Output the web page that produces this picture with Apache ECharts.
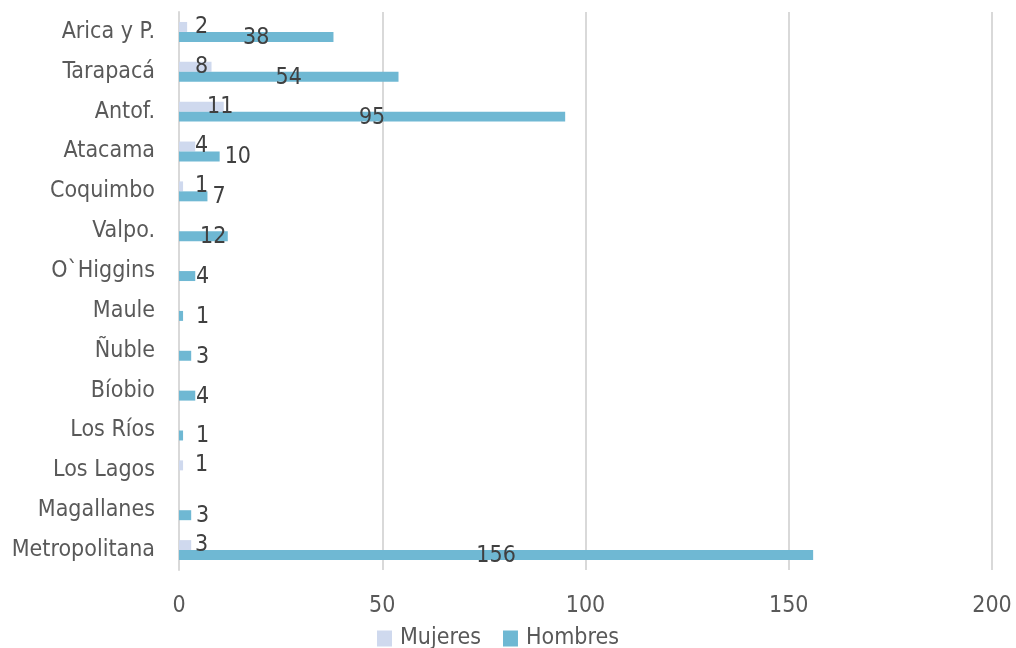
<!DOCTYPE html>
<html><head><meta charset="utf-8">
<script src="https://cdn.jsdelivr.net/npm/echarts@6/dist/echarts.min.js"></script>
<style>html,body{margin:0;padding:0;background:#fff}#c{width:1016px;height:648px}</style>
</head><body><div id="c"></div>
<script>
const categories = ['Arica y P.','Tarapacá','Antof.','Atacama','Coquimbo','Valpo.','O`Higgins','Maule','Ñuble','Bíobio','Los Ríos','Los Lagos','Magallanes','Metropolitana'];
const mujeres = [2, 8, 11, 4, 1, null, null, null, null, null, null, 1, null, 3];
const hombres = [38, 54, 95, 10, 7, 12, 4, 1, 3, 4, 1, null, 3, 156];
const xTicks = [0, 50, 100, 150, 200];

const FONT = "'Liberation Sans Narrow','DejaVu Sans Condensed',sans-serif";
const lab = {fontFamily: FONT, fontSize: 23, color: '#404040'};

function mujItems(arr){
  return arr.map(v => {
    if (v == null) return null;
    const dist = v >= 10 ? 28 : 16;
    return {value: v, label: Object.assign({show: true, position: 'insideLeft', distance: dist}, lab)};
  });
}
function homItems(arr){
  return arr.map(v => {
    if (v == null) return null;
    let pos = 'insideLeft', dist = 17;
    if (v >= 30) { pos = 'inside'; dist = 5; }
    else if (v >= 12) { pos = 'insideLeft'; dist = 21; }
    else if (v >= 6) { pos = 'right'; dist = 5; }
    return {value: v, label: Object.assign({show: true, position: pos, distance: dist, offset: [0, 1]}, lab)};
  });
}

const chart = echarts.init(document.getElementById('c'), null, {renderer: 'canvas'});
chart.setOption({
  animation: false,
  grid: {left: 179, right: 24, top: 12, bottom: 78, containLabel: false},
  legend: {
    top: 622, left: 372, itemWidth: 15, itemHeight: 16, itemGap: 22,
    icon: 'rect',
    textStyle: {fontFamily: FONT, fontSize: 23, color: '#595959', padding: [0, 0, 0, 3]},
    data: ['Mujeres', 'Hombres']
  },
  xAxis: {
    type: 'value', min: 0, max: 200, interval: 50,
    axisLine: {show: false}, axisTick: {show: false},
    axisLabel: {fontFamily: FONT, fontSize: 23, color: '#595959', margin: 25,
      formatter: v => xTicks.includes(v) ? String(v) : ''},
    splitLine: {lineStyle: {color: '#d9d9d9', width: 2}}
  },
  yAxis: {
    type: 'category', data: categories, inverse: true,
    axisLine: {show: true, lineStyle: {color: '#d9d9d9', width: 2}},
    axisTick: {show: false},
    axisLabel: {fontFamily: FONT, fontSize: 23, color: '#595959', margin: 24}
  },
  series: [
    {name: 'Mujeres', type: 'bar', data: mujItems(mujeres), barGap: '0%', barCategoryGap: '50%',
     itemStyle: {color: '#cfd9ee'}},
    {name: 'Hombres', type: 'bar', data: homItems(hombres), barGap: '0%', barCategoryGap: '50%',
     itemStyle: {color: '#6fb8d3'}}
  ]
});
</script></body></html>
